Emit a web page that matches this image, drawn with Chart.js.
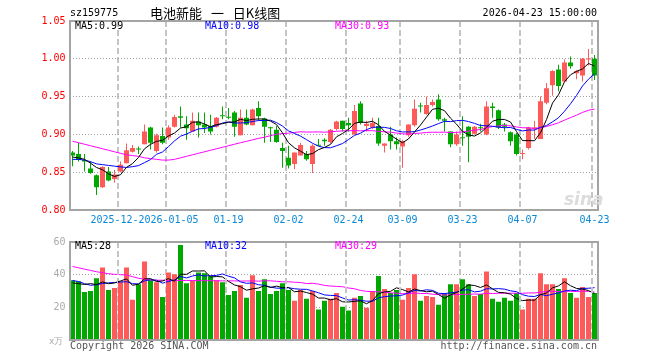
<!DOCTYPE html>
<html>
<head>
<meta charset="utf-8">
<script src="https://cdn.jsdelivr.net/npm/chart.js@4.4.1/dist/chart.umd.min.js"></script>
<style>
  body { margin: 0; width: 660px; height: 360px; background: #fff; position: relative; overflow: hidden;
         font-family: "DejaVu Sans Mono", monospace; font-size: 10px; }
  .box { position: absolute; left: 0; width: 660px; }
  .t { position: absolute; white-space: nowrap; line-height: 12px; }
</style>
</head>
<body>
<div class="box" style="top:0;height:232px"><canvas id="kline"></canvas></div>
<div class="box" style="top:232px;height:128px"><canvas id="vol"></canvas></div>

<div class="t" style="left:70px;top:7px;color:#000">sz159775</div>
<div class="t" style="left:150px;top:5px;font-family:'Noto Sans CJK SC';font-size:13px;line-height:15px;word-spacing:6px;color:#000">电池新能 一 日K线图</div>
<div class="t" style="right:63px;top:7px;color:#000">2026-04-23 15:00:00</div>
<div class="t" id="ma5Txt" style="left:75px;top:20px;color:#000"></div>
<div class="t" id="ma10Txt" style="left:205px;top:20px;color:#0000ff"></div>
<div class="t" id="ma30Txt" style="left:335px;top:20px;color:#ff00ff"></div>
<div class="t" id="vma5Txt" style="left:75px;top:240px;color:#000"></div>
<div class="t" id="vma10Txt" style="left:205px;top:240px;color:#0000ff"></div>
<div class="t" id="vma30Txt" style="left:335px;top:240px;color:#ff00ff"></div>
<div class="t" style="left:49px;top:335px;color:#aaa;font-size:9px">x万</div>
<div class="t" style="left:70px;top:340px;color:#555">Copyright 2026 SINA.COM</div>
<div class="t" style="right:63px;top:340px;color:#555">http://finance.sina.com.cn</div>
<div class="t" style="left:564px;top:190px;color:#dcdcdc;font-family:'DejaVu Sans';font-weight:bold;font-style:italic;font-size:17px;line-height:18px">sina</div>

<script>
// trading days shown on the chart
const dates = [
  "2025-12-10", "2025-12-11", "2025-12-12", "2025-12-15", "2025-12-16", "2025-12-17", "2025-12-18", "2025-12-19",
  "2025-12-22", "2025-12-23", "2025-12-24", "2025-12-25", "2025-12-26", "2025-12-29", "2025-12-30", "2025-12-31",
  "2026-01-05", "2026-01-06", "2026-01-07", "2026-01-08", "2026-01-09", "2026-01-12", "2026-01-13", "2026-01-14",
  "2026-01-15", "2026-01-16", "2026-01-19", "2026-01-20", "2026-01-21", "2026-01-22", "2026-01-23", "2026-01-26",
  "2026-01-27", "2026-01-28", "2026-01-29", "2026-01-30", "2026-02-02", "2026-02-03", "2026-02-04", "2026-02-05",
  "2026-02-06", "2026-02-09", "2026-02-10", "2026-02-11", "2026-02-12", "2026-02-13", "2026-02-24", "2026-02-25",
  "2026-02-26", "2026-02-27", "2026-03-02", "2026-03-03", "2026-03-04", "2026-03-05", "2026-03-06", "2026-03-09",
  "2026-03-10", "2026-03-11", "2026-03-12", "2026-03-13", "2026-03-16", "2026-03-17", "2026-03-18", "2026-03-19",
  "2026-03-20", "2026-03-23", "2026-03-24", "2026-03-25", "2026-03-26", "2026-03-27", "2026-03-30", "2026-03-31",
  "2026-04-01", "2026-04-02", "2026-04-03", "2026-04-07", "2026-04-08", "2026-04-09", "2026-04-10", "2026-04-13",
  "2026-04-14", "2026-04-15", "2026-04-16", "2026-04-17", "2026-04-20", "2026-04-21", "2026-04-22", "2026-04-23"
];

// x axis labels and the days they sit on
const tickDates = ["2025-12-22", "2026-01-05", "2026-01-19", "2026-02-02", "2026-02-24", "2026-03-09", "2026-03-23", "2026-04-07", "2026-04-23"];
const tickLabels = ["2025-12-22", "2026-01-05", "01-19", "02-02", "02-24", "03-09", "03-23", "04-07", "04-23"];

// daily prices
const opens = [
  0.876, 0.874, 0.866, 0.855, 0.846, 0.830, 0.851, 0.841, 0.851, 0.862, 0.877, 0.881, 0.887, 0.909, 0.878, 0.898,
  0.896, 0.910, 0.924, 0.913, 0.904, 0.917, 0.913, 0.911, 0.910, 0.925, 0.923, 0.929, 0.899, 0.922, 0.912, 0.935,
  0.921, 0.909, 0.906, 0.882, 0.869, 0.861, 0.872, 0.874, 0.861, 0.886, 0.893, 0.890, 0.907, 0.918, 0.915, 0.900,
  0.941, 0.911, 0.909, 0.911, 0.885, 0.900, 0.891, 0.884, 0.899, 0.912, 0.938, 0.927, 0.939, 0.946, 0.920, 0.904,
  0.887, 0.896, 0.910, 0.901, 0.909, 0.900, 0.937, 0.932, 0.913, 0.903, 0.900, 0.874, 0.882, 0.907, 0.894, 0.942,
  0.965, 0.986, 0.970, 0.995, 0.981, 0.978, 0.999, 1.000
];
const highs = [
  0.878, 0.889, 0.874, 0.864, 0.847, 0.858, 0.857, 0.853, 0.864, 0.888, 0.886, 0.884, 0.913, 0.910, 0.901, 0.909,
  0.912, 0.926, 0.937, 0.924, 0.929, 0.929, 0.929, 0.926, 0.923, 0.937, 0.935, 0.931, 0.933, 0.933, 0.934, 0.944,
  0.922, 0.910, 0.911, 0.889, 0.885, 0.876, 0.889, 0.878, 0.887, 0.894, 0.895, 0.907, 0.918, 0.918, 0.922, 0.939,
  0.944, 0.918, 0.922, 0.922, 0.888, 0.910, 0.896, 0.893, 0.913, 0.946, 0.942, 0.950, 0.946, 0.953, 0.922, 0.904,
  0.904, 0.924, 0.911, 0.911, 0.914, 0.944, 0.942, 0.933, 0.915, 0.904, 0.902, 0.880, 0.910, 0.918, 0.950, 0.968,
  0.985, 0.992, 0.999, 1.003, 0.985, 1.001, 1.013, 1.005
];
const lows = [
  0.858, 0.864, 0.851, 0.848, 0.820, 0.829, 0.838, 0.836, 0.850, 0.862, 0.876, 0.874, 0.887, 0.880, 0.876, 0.887,
  0.893, 0.909, 0.909, 0.893, 0.904, 0.896, 0.902, 0.900, 0.909, 0.920, 0.920, 0.897, 0.899, 0.912, 0.912, 0.918,
  0.889, 0.890, 0.889, 0.856, 0.855, 0.854, 0.872, 0.865, 0.849, 0.885, 0.885, 0.888, 0.905, 0.904, 0.904, 0.900,
  0.913, 0.904, 0.907, 0.885, 0.876, 0.880, 0.880, 0.856, 0.897, 0.910, 0.929, 0.926, 0.937, 0.918, 0.904, 0.883,
  0.885, 0.885, 0.863, 0.900, 0.904, 0.899, 0.922, 0.907, 0.904, 0.885, 0.872, 0.867, 0.880, 0.894, 0.894, 0.940,
  0.951, 0.957, 0.970, 0.987, 0.973, 0.970, 0.991, 0.972
];
const closes = [
  0.872, 0.866, 0.864, 0.849, 0.830, 0.857, 0.839, 0.847, 0.860, 0.879, 0.882, 0.880, 0.904, 0.889, 0.899, 0.889,
  0.909, 0.923, 0.922, 0.908, 0.918, 0.912, 0.909, 0.904, 0.922, 0.924, 0.922, 0.910, 0.922, 0.913, 0.933, 0.924,
  0.910, 0.908, 0.890, 0.878, 0.859, 0.876, 0.886, 0.867, 0.885, 0.885, 0.891, 0.906, 0.917, 0.907, 0.912, 0.931,
  0.915, 0.914, 0.915, 0.888, 0.888, 0.891, 0.887, 0.891, 0.913, 0.934, 0.937, 0.939, 0.943, 0.920, 0.918, 0.887,
  0.900, 0.895, 0.897, 0.910, 0.908, 0.937, 0.935, 0.909, 0.910, 0.891, 0.874, 0.875, 0.909, 0.909, 0.944, 0.961,
  0.984, 0.964, 0.995, 0.990, 0.984, 1.000, 1.000, 0.978
];

// volume, in 10k
const volumes = [
  36.6, 36.0, 29.4, 30.0, 37.8, 44.4, 30.6, 31.8, 36.0, 44.4, 24.6, 34.2, 48.0, 36.6, 35.4, 26.4,
  41.4, 40.2, 58.2, 34.8, 36.6, 41.4, 40.8, 39.0, 36.6, 35.4, 27.6, 30.0, 33.6, 25.8, 39.6, 30.0,
  37.2, 28.2, 30.0, 34.8, 30.6, 24.0, 30.6, 25.2, 30.0, 18.6, 24.0, 25.2, 28.8, 20.4, 18.0, 25.8,
  27.0, 19.8, 30.0, 39.2, 31.2, 28.8, 30.6, 24.6, 31.8, 40.2, 24.0, 27.0, 26.4, 21.6, 28.8, 34.2,
  34.2, 37.2, 34.2, 27.0, 28.2, 42.0, 25.2, 23.4, 25.8, 24.0, 28.8, 18.6, 25.2, 25.2, 40.8, 34.2,
  34.2, 31.2, 37.8, 28.8, 25.8, 32.4, 26.4, 28.8
];

const ma5Head = [0.870, 0.869, 0.867, 0.862];
const ma10Head = [0.867, 0.867, 0.866, 0.864, 0.861, 0.860, 0.859, 0.858, 0.857];
const ma30Head = [
  0.891, 0.889, 0.887, 0.885, 0.883, 0.881, 0.879, 0.877, 0.875, 0.873, 0.872, 0.871, 0.869, 0.868, 0.867,
  0.866, 0.866, 0.867, 0.869, 0.871, 0.873, 0.875, 0.877, 0.879, 0.881, 0.883, 0.885, 0.887, 0.889
];
const vma5Head = [35.0, 34.5, 34.0, 34.5];
const vma10Head = [36.4, 35.8, 34.5, 33.5, 33.8, 34.6, 35.0, 35.2, 35.5];
const vma30Head = [
  45.0, 44.2, 43.4, 42.6, 41.8, 41.2, 40.6, 40.2, 40.0, 39.8, 38.8, 37.8, 37.2, 36.8, 36.6,
  36.6, 36.5, 36.5, 36.4, 36.4, 36.4, 36.4, 36.3, 36.3, 36.3, 36.2, 36.2, 36.2, 36.1
];

const upColor = "#ff5a5a";
const downColor = "#00a800";
const gridColor = "#c4c4c4";
const monoFont = { family: "DejaVu Sans Mono", size: 10 };

// moving average over n days, head values used where the window is not full yet
function movingAverage(values, n, head) {
  return values.map(function (v, i) {
    if (i < n - 1) return head[i];
    let sum = 0;
    for (let k = i - n + 1; k <= i; k++) sum += values[k];
    return sum / n;
  });
}

const ma5 = movingAverage(closes, 5, ma5Head);
const ma10 = movingAverage(closes, 10, ma10Head);
const ma30 = movingAverage(closes, 30, ma30Head);
const vma5 = movingAverage(volumes, 5, vma5Head);
const vma10 = movingAverage(volumes, 10, vma10Head);
const vma30 = movingAverage(volumes, 30, vma30Head);

const candleColors = closes.map((c, i) => (c >= opens[i] ? upColor : downColor));
const last = dates.length - 1;

// legend texts
document.getElementById("ma5Txt").textContent = "MA5:" + ma5[last].toFixed(2);
document.getElementById("ma10Txt").textContent = "MA10:" + ma10[last].toFixed(2);
document.getElementById("ma30Txt").textContent = "MA30:" + ma30[last].toFixed(2);
document.getElementById("vma5Txt").textContent = "MA5:" + Math.round(vma5[last]);
document.getElementById("vma10Txt").textContent = "MA10:" + Math.round(vma10[last]);
document.getElementById("vma30Txt").textContent = "MA30:" + Math.round(vma30[last]);

// gray frame round the plot area
const framePlugin = {
  id: "frame",
  afterDatasetsDraw(chart) {
    const a = chart.chartArea;
    const ctx = chart.ctx;
    const left = Math.round(a.left);
    const right = Math.round(a.right);
    ctx.save();
    ctx.strokeStyle = "#a4a4a4";
    ctx.lineWidth = 2;
    ctx.strokeRect(left, Math.round(a.top), right - left, Math.round(a.bottom - a.top));
    ctx.restore();
  }
};

// dashed day lines for the volume panel: full width above the bar,
// then only the 1px gap between two bars, so the bars stay on top
const dayLinesPlugin = {
  id: "dayLines",
  afterDatasetsDraw(chart) {
    const x = chart.scales.x;
    const y = chart.scales.y;
    const a = chart.chartArea;
    const ctx = chart.ctx;
    const half = (x.getPixelForValue(1) - x.getPixelForValue(0)) / 2;
    ctx.save();
    ctx.strokeStyle = gridColor;
    ctx.setLineDash([6, 3]);
    dates.forEach(function (d, i) {
      if (!tickDates.includes(d)) return;
      const px = Math.round(x.getPixelForValue(i) - half);
      const barTop = Math.round(y.getPixelForValue(volumes[i]));
      ctx.lineWidth = 2;
      ctx.lineDashOffset = 0;
      ctx.beginPath();
      ctx.moveTo(px, a.top);
      ctx.lineTo(px, barTop);
      ctx.stroke();
      ctx.lineWidth = 1;
      ctx.lineDashOffset = barTop - a.top;
      ctx.beginPath();
      ctx.moveTo(px - 0.5, barTop);
      ctx.lineTo(px - 0.5, a.bottom);
      ctx.stroke();
    });
    ctx.restore();
  }
};

function maLine(data, color) {
  return { type: "line", data: data, borderColor: color, borderWidth: 1, pointRadius: 0, tension: 0, order: 0 };
}

// gridlines sit half a day left of the labelled day, like the original
function xAxis(labelColor, axisHeight, lineColor) {
  return {
    offset: true,
    grid: {
      offset: true,
      drawTicks: false,
      lineWidth: 2,
      color: (ctx) => (ctx.tick && tickDates.includes(dates[ctx.index]) ? lineColor : "transparent")
    },
    border: { display: false, dash: [6, 3] },
    ticks: {
      autoSkip: false,
      maxRotation: 0,
      padding: 4,
      font: monoFont,
      color: labelColor,
      showLabelBackdrop: labelColor !== "transparent",
      backdropColor: "#fff",
      backdropPadding: 0,
      callback: function (v, i) {
        const k = tickDates.indexOf(dates[i]);
        return k === -1 ? "" : tickLabels[k];
      }
    },
    afterFit: (axis) => { axis.height = axisHeight; }
  };
}

function yGrid(min, max) {
  return {
    drawTicks: false,
    color: (ctx) => (!ctx.tick || ctx.tick.value <= min || ctx.tick.value >= max ? "transparent" : "#a0a0a0")
  };
}

// price panel
new Chart(document.getElementById("kline"), {
  type: "bar",
  data: {
    labels: dates,
    datasets: [
      maLine(ma5, "#000000"),
      maLine(ma10, "#0000ff"),
      maLine(ma30, "#ff00ff"),
      {
        data: opens.map((o, i) => [Math.min(o, closes[i]), Math.max(o, closes[i])]),
        backgroundColor: candleColors,
        barThickness: 5,
        minBarLength: 1,
        inflateAmount: 0,
        grouped: false,
        order: 1
      },
      {
        data: lows.map((l, i) => [l, highs[i]]),
        backgroundColor: candleColors,
        barThickness: 1,
        minBarLength: 1,
        inflateAmount: 0,
        grouped: false,
        order: 2
      }
    ]
  },
  options: {
    responsive: true,
    maintainAspectRatio: false,
    animation: false,
    layout: { padding: { left: 0, right: 62.5, top: 21, bottom: 0 } },
    plugins: { legend: { display: false }, tooltip: { enabled: false } },
    scales: {
      x: xAxis("#0a88d8", 22, gridColor),
      y: {
        min: 0.8,
        max: 1.05,
        grid: yGrid(0.8001, 1.0499),
        border: { display: false, dash: [1, 2] },
        ticks: {
          stepSize: 0.05,
          padding: 4,
          font: monoFont,
          color: "#ff0000",
          callback: (v) => v.toFixed(2)
        },
        afterFit: (axis) => { axis.width = 69.5; }
      }
    }
  },
  plugins: [framePlugin]
});

// volume panel
new Chart(document.getElementById("vol"), {
  type: "bar",
  data: {
    labels: dates,
    datasets: [
      maLine(vma5, "#000000"),
      maLine(vma10, "#0000ff"),
      maLine(vma30, "#ff00ff"),
      {
        data: volumes,
        backgroundColor: candleColors,
        barThickness: 5,
        inflateAmount: 0,
        grouped: false,
        order: 1
      }
    ]
  },
  options: {
    responsive: true,
    maintainAspectRatio: false,
    animation: false,
    layout: { padding: { left: 0, right: 62.5, top: 8, bottom: 0 } },
    plugins: { legend: { display: false }, tooltip: { enabled: false } },
    scales: {
      x: xAxis("transparent", 20, "transparent"),
      y: {
        min: 0,
        max: 60,
        grid: yGrid(0.01, 59.99),
        border: { display: false, dash: [1, 2] },
        ticks: {
          stepSize: 20,
          padding: 4,
          font: monoFont,
          color: "#aaaaaa",
          callback: (v) => (v === 0 ? "" : v)
        },
        afterFit: (axis) => { axis.width = 69.5; }
      }
    }
  },
  plugins: [dayLinesPlugin, framePlugin]
});
</script>
</body>
</html>
